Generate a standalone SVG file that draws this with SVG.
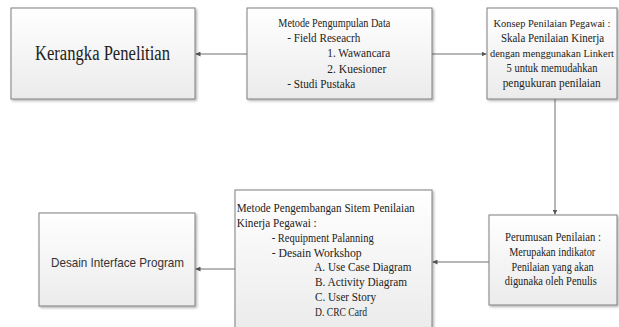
<svg xmlns="http://www.w3.org/2000/svg" width="619" height="327" viewBox="0 0 619 327">
<defs>
<linearGradient id="g" x1="0" y1="0" x2="0" y2="1">
<stop offset="0" stop-color="#ffffff"/>
<stop offset="1" stop-color="#ebebeb"/>
</linearGradient>
<filter id="sh" x="-10%" y="-10%" width="125%" height="125%">
<feDropShadow dx="1.5" dy="1.5" stdDeviation="1.2" flood-color="#000" flood-opacity="0.3"/>
</filter>
<marker id="ah" viewBox="0 0 10 10" refX="10" refY="5" markerWidth="5" markerHeight="5" orient="auto" markerUnits="userSpaceOnUse">
<path d="M0,0 L10,5 L0,10 z" fill="#555"/>
</marker>
<style>
.box{fill:url(#g);stroke:#7f7f7f;stroke-width:1;filter:url(#sh)}
.t{font-family:"Liberation Serif","Times New Roman",serif;font-size:12px;fill:#222}
.s{font-size:10.5px}
.c{text-anchor:middle}
.big{font-family:"Liberation Serif","Times New Roman",serif;font-size:20px;fill:#222}
.sans{font-family:"Liberation Sans",Arial,sans-serif;font-size:13px;fill:#333}
.ln{stroke:#6e6e6e;stroke-width:1;fill:none;marker-end:url(#ah)}
</style>
</defs>
<rect width="619" height="327" fill="#fff"/>
<g id="connectors">
<line class="ln" x1="247" y1="54" x2="195.5" y2="54"/>
<line class="ln" x1="432" y1="54" x2="486.5" y2="54"/>
<line class="ln" x1="555" y1="99" x2="555" y2="214.5"/>
<line class="ln" x1="489" y1="262" x2="432.5" y2="262"/>
<line class="ln" x1="235" y1="269" x2="195.5" y2="269"/>
</g>
<g id="kerangka">
<rect class="box" x="11" y="8" width="184" height="91"/>
<text class="big" x="35" y="60" textLength="135" lengthAdjust="spacingAndGlyphs">Kerangka Penelitian</text>
</g>
<g id="pengumpulan">
<rect class="box" x="247" y="8" width="185" height="91"/>
<text class="t" x="278.3" y="26.7" textLength="112" lengthAdjust="spacingAndGlyphs">Metode Pengumpulan Data</text>
<text class="t" x="287.3" y="41.7" textLength="73" lengthAdjust="spacingAndGlyphs">- Field Reseacrh</text>
<text class="t" x="327.3" y="57.3" textLength="63" lengthAdjust="spacingAndGlyphs">1. Wawancara</text>
<text class="t" x="327.3" y="72.7" textLength="59" lengthAdjust="spacingAndGlyphs">2. Kuesioner</text>
<text class="t" x="287.3" y="87.7" textLength="68" lengthAdjust="spacingAndGlyphs">- Studi Pustaka</text>
</g>
<g id="konsep">
<rect class="box" x="487" y="8" width="130" height="91"/>
<text class="t s c" x="552" y="27.3" textLength="117" lengthAdjust="spacingAndGlyphs">Konsep Penilaian Pegawai :</text>
<text class="t c" x="552.5" y="42.3" textLength="103" lengthAdjust="spacingAndGlyphs">Skala Penilaian Kinerja</text>
<text class="t s c" x="552" y="57.3" textLength="124" lengthAdjust="spacingAndGlyphs">dengan menggunakan Linkert</text>
<text class="t c" x="552" y="72.3" textLength="91" lengthAdjust="spacingAndGlyphs">5 untuk memudahkan</text>
<text class="t c" x="551.7" y="87.3" textLength="98" lengthAdjust="spacingAndGlyphs">pengukuran penilaian</text>
</g>
<g id="perumusan">
<rect class="box" x="489" y="215" width="128" height="90"/>
<text class="t c" x="553" y="241" textLength="96" lengthAdjust="spacingAndGlyphs">Perumusan Penilaian :</text>
<text class="t c" x="552.2" y="255.7" textLength="86" lengthAdjust="spacingAndGlyphs">Merupakan indikator</text>
<text class="t c" x="552.5" y="270.7" textLength="82" lengthAdjust="spacingAndGlyphs">Penilaian yang akan</text>
<text class="t c" x="550.8" y="285" textLength="92" lengthAdjust="spacingAndGlyphs">digunaka oleh Penulis</text>
</g>
<g id="pengembangan">
<rect class="box" x="235" y="190" width="197" height="142"/>
<text class="t" x="236.7" y="211.7" textLength="178" lengthAdjust="spacingAndGlyphs">Metode Pengembangan Sitem Penilaian</text>
<text class="t" x="236.7" y="227.3" textLength="80" lengthAdjust="spacingAndGlyphs">Kinerja Pegawai :</text>
<text class="t" x="271.7" y="241.7" textLength="102" lengthAdjust="spacingAndGlyphs">- Requipment Palanning</text>
<text class="t" x="271.7" y="256.7" textLength="90" lengthAdjust="spacingAndGlyphs">- Desain Workshop</text>
<text class="t" x="314.3" y="271" textLength="97" lengthAdjust="spacingAndGlyphs">A. Use Case Diagram</text>
<text class="t" x="315" y="286" textLength="92" lengthAdjust="spacingAndGlyphs">B. Activity Diagram</text>
<text class="t" x="315" y="301" textLength="61" lengthAdjust="spacingAndGlyphs">C. User Story</text>
<text class="t" x="315" y="315.7" textLength="52" lengthAdjust="spacingAndGlyphs">D. CRC Card</text>
</g>
<g id="desain">
<rect class="box" x="39" y="213" width="156" height="93"/>
<text class="sans" x="51" y="267" textLength="133" lengthAdjust="spacingAndGlyphs">Desain Interface Program</text>
</g>
</svg>
